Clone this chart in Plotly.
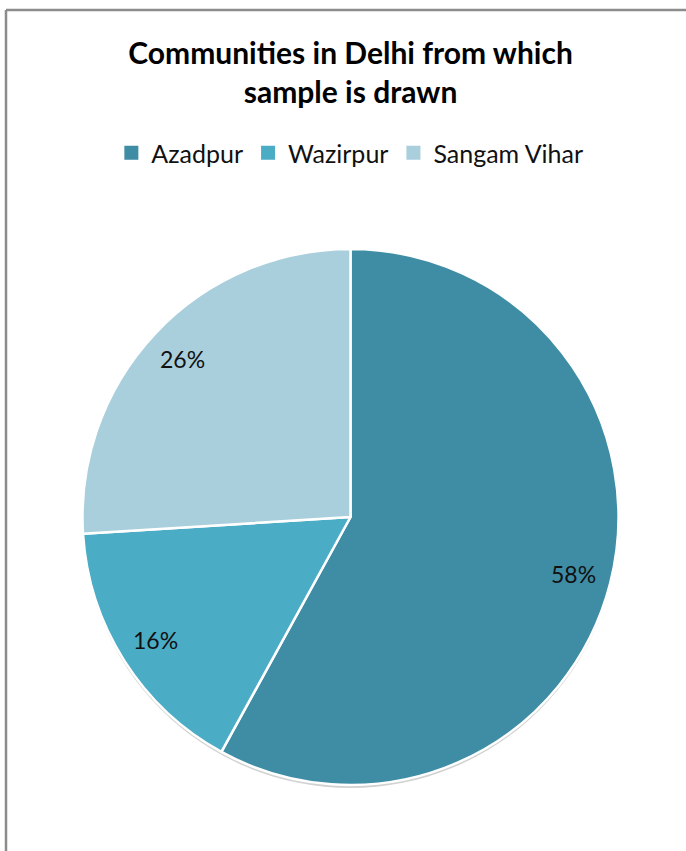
import math
import plotly.graph_objects as go

W, H = 686, 851

labels = ["Azadpur", "Wazirpur", "Sangam Vihar"]
values = [58, 16, 26]
colors = ["#3E8DA4", "#4BACC6", "#A9CEDC"]
title_text = "Communities in Delhi from which<br>sample is drawn"

# pie geometry (pixels)
cx_px, cy_px, r_px = 350.5, 517, 268
dom_x = [(cx_px - r_px) / W, (cx_px + r_px) / W]
dom_y = [(H - cy_px - r_px) / H, (H - cy_px + r_px) / H]
sh = 3  # shadow offset px
dom_y_sh = [d - sh / H for d in dom_y]

fig = go.Figure()
# soft shadow
fig.add_trace(go.Pie(
    values=[1], labels=["shadow"], domain=dict(x=dom_x, y=dom_y_sh),
    marker=dict(colors=["rgba(0,0,0,0.18)"], line=dict(width=0)),
    textinfo="none", hoverinfo="skip", showlegend=False, sort=False,
))
fig.add_trace(go.Pie(
    values=values, labels=labels, domain=dict(x=dom_x, y=dom_y),
    marker=dict(colors=colors, line=dict(color="white", width=2.5)),
    sort=False, direction="clockwise", rotation=0,
    textinfo="none", hoverinfo="label+percent", showlegend=False,
))
# legend entries (square markers)
for lab, col in zip(labels, colors):
    fig.add_trace(go.Scatter(
        x=[None], y=[None], mode="markers", name=lab,
        marker=dict(symbol="square", size=14, color=col),
        showlegend=True, hoverinfo="skip",
    ))

# percentage labels placed along each slice's mid angle
total = sum(values)
annotations = []
start = 0.0
for v in values:
    mid = (start + v / 2) / total * 2 * math.pi
    start += v
    d = 0.86 * r_px
    x_px = cx_px + d * math.sin(mid)
    y_px = cy_px - d * math.cos(mid)
    annotations.append(dict(
        x=x_px / W, y=1 - y_px / H, xref="paper", yref="paper",
        text=f"{round(v / total * 100)}%", showarrow=False,
        font=dict(family="Lato", size=23, color="#111111"),
        xanchor="center", yanchor="middle",
    ))

fig.update_layout(
    width=W, height=H,
    margin=dict(l=0, r=0, t=0, b=0),
    paper_bgcolor="white", plot_bgcolor="white",
    xaxis=dict(visible=False), yaxis=dict(visible=False),
    title=dict(text=title_text, x=0.511, xanchor="center", y=1 - 64 / H, yanchor="middle",
               font=dict(family="Lato", size=30, color="black", weight="bold")),
    legend=dict(orientation="h", x=0.51, xanchor="center", y=1 - 153 / H, yanchor="middle",
                font=dict(family="Lato", size=25, color="#111111"),
                itemwidth=30, traceorder="normal"),
    annotations=annotations,
    shapes=[
        dict(type="line", xref="paper", yref="paper", x0=6 / W, x1=1, y0=1 - 10 / H, y1=1 - 10 / H,
             line=dict(color="#8C8C8C", width=2.5)),
        dict(type="line", xref="paper", yref="paper", x0=6 / W, x1=6 / W, y0=0, y1=1 - 10 / H,
             line=dict(color="#8C8C8C", width=2.5)),
    ],
)

fig.write_html("out.html")
